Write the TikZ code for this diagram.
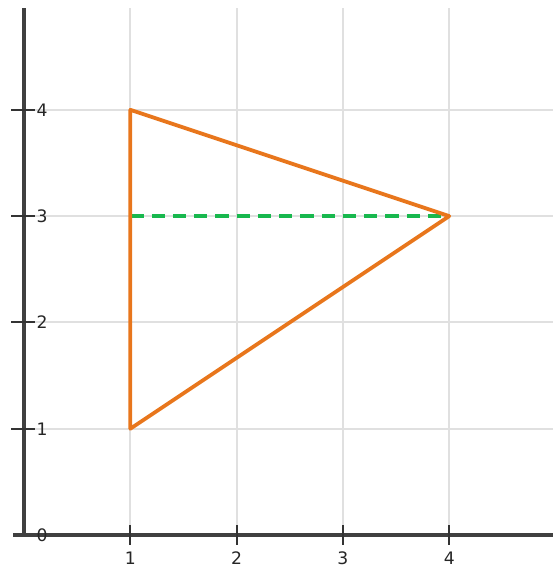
\documentclass[tikz,border=0pt]{standalone}
\usepackage{fontspec}
\setmainfont{DejaVu Sans}
\definecolor{edgeorange}{RGB}{232,118,28}
\definecolor{midgreen}{RGB}{24,184,78}

\begin{document}
\begin{tikzpicture}[
    gridline/.style={draw=black!12, line width=0.55pt},
    axisline/.style={draw=black!75, line width=0.85pt},
    tickmark/.style={draw=black!80, line width=0.55pt},
    ticklabel/.style={font=\fontsize{4.6}{5}\selectfont, text=black!85, inner sep=0.5pt},
    triside/.style={draw=edgeorange, line width=1pt, line join=round},
    midline/.style={draw=midgreen, line width=1pt, dash pattern=on 1.25mm off 0.75mm}
]
    \useasboundingbox (-0.226,-0.31) rectangle (4.986,5.033);

    % --- GRID ---
    \foreach \k in {1,...,4} {
        \draw[gridline] (\k,0) -- (\k,4.96);
        \draw[gridline] (0,\k) -- (4.98,\k);
    }

    % --- AXES ---
    \draw[axisline] (0,0) -- (0,4.96);
    \draw[axisline] (-0.1,0) -- (4.98,0);

    \foreach \k in {1,...,4} {
        \draw[tickmark] (\k,-0.09) -- (\k,0.09);
        \node[ticklabel] (xl\k) at (\k,-0.22) {\k};
        \draw[tickmark] (-0.12,\k) -- (0.1,\k);
        \node[ticklabel] (yl\k) at (0.17,\k) {\k};
    }
    \node[ticklabel] (yl0) at (0.17,0) {0};

    % --- TRIANGLE ---
    \coordinate (A) at (1,1);
    \coordinate (B) at (1,4);
    \coordinate (C) at (4,3);
    \coordinate (M) at (1,3);

    \draw[midline] (M) -- (C);
    \draw[triside] (A) -- (B) -- (C) -- cycle;

\end{tikzpicture}
\end{document}
